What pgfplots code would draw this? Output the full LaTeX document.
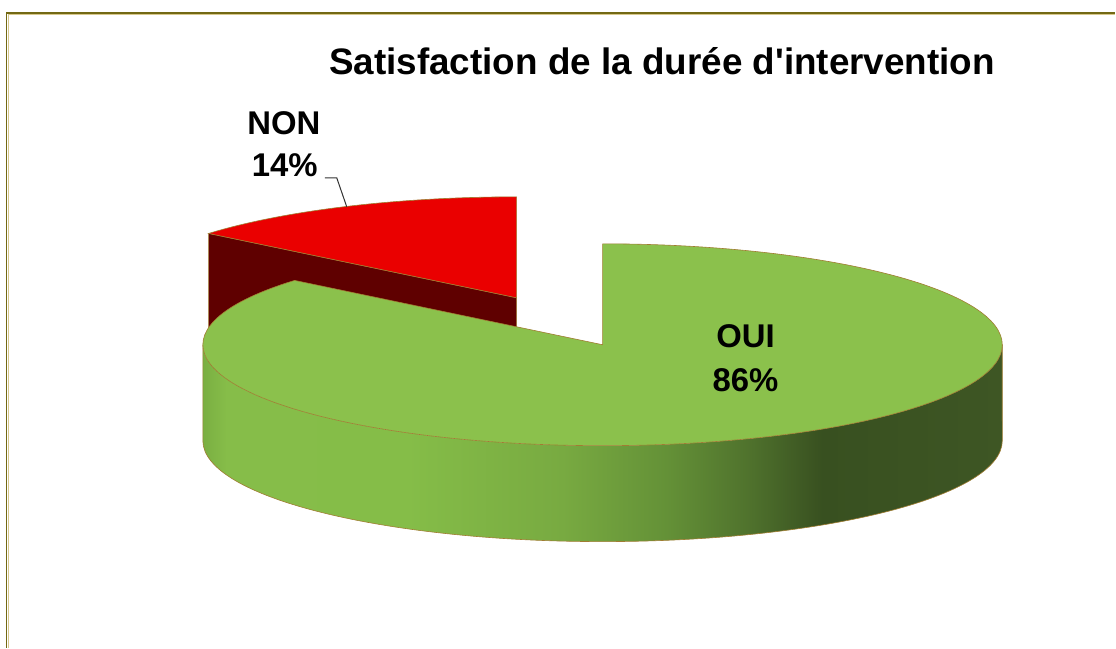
\documentclass[border=0pt]{standalone}
\usepackage{fontspec}
\setmainfont{Liberation Sans}[Ligatures=TeXOff]
\usepackage{pgfplots}
\usepackage{pgfplotstable}
\pgfplotsset{compat=1.18}
\definecolor{redtop}{RGB}{234,0,0}
\definecolor{reddark}{RGB}{95,0,0}
\definecolor{greentop}{RGB}{139,193,76}
\definecolor{edgecol}{RGB}{160,125,50}
\definecolor{bordero}{RGB}{115,105,20}
\definecolor{bordert}{RGB}{215,200,140}
\definecolor{gA}{RGB}{122,175,66}
\definecolor{gB}{RGB}{134,189,73}
\definecolor{gC}{RGB}{133,189,72}
\definecolor{gD}{RGB}{120,170,65}
\definecolor{gE}{RGB}{100,145,55}
\definecolor{gF}{RGB}{80,115,45}
\definecolor{gG}{RGB}{56,80,32}
\definecolor{gH}{RGB}{62,86,36}
\pgfdeclarehorizontalshading{greenside}{100bp}{color(0bp)=(gA); color(25bp)=(gA); color(26.5bp)=(gB); color(37.8bp)=(gC); color(47.5bp)=(gD); color(54bp)=(gE); color(59bp)=(gF); color(63.75bp)=(gG); color(75bp)=(gH); color(100bp)=(gH)}
\pgfplotstableread{
cat value
OUI 86
NON 14
}\piedata
\begin{document}
\begin{tikzpicture}
\pgfplotstablegetelem{0}{value}\of\piedata \let\vOUI\pgfplotsretval
\pgfplotstablegetelem{1}{value}\of\piedata \let\vNON\pgfplotsretval
\pgfmathsetmacro{\aS}{90-\vOUI*3.6}
\pgfmathsetmacro{\aE}{90+\vNON*3.6}
\pgfmathsetmacro{\gx}{603+400*cos(\aS)}
\pgfmathsetmacro{\gy}{303+101*sin(\aS)}
\pgfmathsetmacro{\rx}{517+400*cos(\aE)}
\pgfmathsetmacro{\ry}{350+101*sin(\aE)}
\pgfmathsetmacro{\ryb}{\ry-96}
\begin{axis}[x=1bp,y=1bp,xmin=0,xmax=1116,ymin=0,ymax=648,hide axis,clip=false]
\fill[white] (0,0) rectangle (1116,648);
% border
\draw[bordert,line width=1bp] (8.2,0) -- (8.2,633.2) -- (1116,633.2);
\draw[bordero,line width=1.6bp] (6.5,0) -- (6.5,634.7) -- (1116,634.7);
% red slice (exploded)
\fill[reddark,draw=edgecol,line width=0.6bp] (517,350) -- (\rx,\ry) -- (\rx,\ryb) -- (517,254) -- cycle;
\fill[redtop,draw=edgecol,line width=0.6bp] (517,350) -- (517,451) arc[start angle=90,end angle=\aE,x radius=400bp,y radius=101bp] -- cycle;
% green slice side
\shade[shading=greenside] (203,303) arc[start angle=180,end angle=360,x radius=400bp,y radius=101bp] -- (1003,207) arc[start angle=0,end angle=-180,x radius=400bp,y radius=101bp] -- cycle;
\draw[edgecol,line width=0.6bp] (203,303) -- (203,207) arc[start angle=180,end angle=360,x radius=400bp,y radius=101bp] -- (1003,303);
% green top
\fill[greentop,draw=edgecol,line width=0.6bp] (603,303) -- (\gx,\gy) arc[start angle=\aS,end angle=90,x radius=400bp,y radius=101bp] -- cycle;
% labels
\node[anchor=base,font=\fontsize{37}{44}\selectfont\bfseries] at (662.5,573) {Satisfaction de la durée d'intervention};
\node[anchor=base,font=\fontsize{33}{40}\selectfont\bfseries] at (284,513) {NON};
\node[anchor=base,font=\fontsize{33}{40}\selectfont\bfseries] at (285,471) {14\%};
\node[anchor=base,font=\fontsize{33}{40}\selectfont\bfseries] at (746,300) {OUI};
\node[anchor=base,font=\fontsize{33}{40}\selectfont\bfseries] at (746,256) {86\%};
\draw[black!80,line width=1bp] (325,470) -- (337,470) -- (347,441);
\end{axis}
\end{tikzpicture}
\end{document}
